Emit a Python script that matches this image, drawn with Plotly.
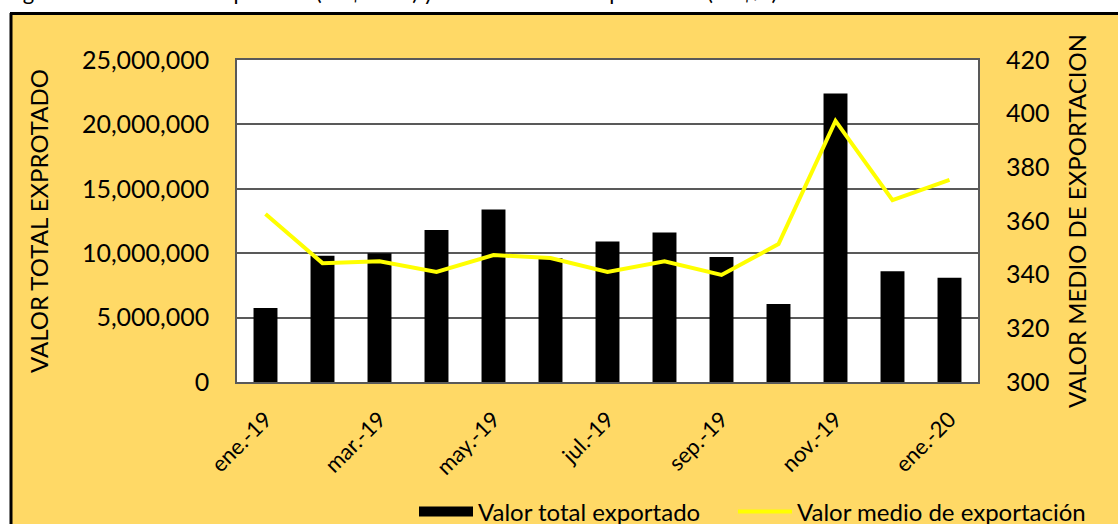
import plotly.graph_objects as go

months = ["ene.-19", "feb.-19", "mar.-19", "abr.-19", "may.-19", "jun.-19", "jul.-19",
          "ago.-19", "sep.-19", "oct.-19", "nov.-19", "dic.-19", "ene.-20"]
valor_total = [5750000, 9800000, 10000000, 11800000, 13400000, 9600000, 10900000,
               11600000, 9700000, 6050000, 22400000, 8600000, 8100000]
valor_medio = [362.6, 344.3, 345.0, 341.0, 347.3, 346.2, 341.0,
               345.0, 339.9, 351.4, 397.3, 367.8, 375.3]
tick_months = months[::2]
left_ticks = [0, 5000000, 10000000, 15000000, 20000000, 25000000]
right_ticks = [300, 320, 340, 360, 380, 400, 420]

W, H = 1118, 524
L, R, T, B = 237, 978, 60, 382
pw, ph = R - L, B - T

def px(x):
    return (x - L) / pw

def py(y):
    return (B - y) / ph

FONT = "Lato"
YEL = "#FFD966"

fig = go.Figure()
fig.add_trace(go.Bar(x=months, y=valor_total, name="Valor total exportado",
                     marker=dict(color="black", line=dict(width=0)), yaxis="y",
                     showlegend=False))
# legend proxy with a wide black key, as in the original
fig.add_trace(go.Scatter(x=[None], y=[None], name="Valor total exportado", mode="lines",
                         line=dict(color="black", width=15), yaxis="y", legend="legend"))
fig.add_trace(go.Scatter(x=months, y=valor_medio, name="Valor medio de exportación",
                         mode="lines", line=dict(color="#FFFF00", width=4), yaxis="y2",
                         legend="legend2"))

legend_common = dict(orientation="h", yanchor="middle", font=dict(size=24, family=FONT),
                     bgcolor="rgba(0,0,0,0)", itemwidth=54)

fig.update_layout(
    width=W, height=H,
    margin=dict(l=L, r=W - R, t=T, b=H - B, pad=0, autoexpand=False),
    paper_bgcolor=YEL, plot_bgcolor="white",
    font=dict(family=FONT, color="black", size=22),
    bargap=0.58,
    showlegend=True,
    legend=dict(x=px(414), y=py(512), xanchor="left", **legend_common),
    legend2=dict(x=px(733), y=py(512), xanchor="left", **legend_common),
    xaxis=dict(tickvals=tick_months, ticktext=tick_months, tickangle=-45,
               tickfont=dict(size=22), showgrid=False, showline=True, linecolor="#595959",
               linewidth=1.5, mirror=True, ticks="", ticklabelstandoff=14, automargin=False),
    yaxis=dict(range=[0, 25000000], tickvals=left_ticks, tickformat=",d",
               tickfont=dict(size=25), showgrid=True, gridcolor="#595959", gridwidth=1.5,
               showline=True, linecolor="#595959", linewidth=1.5, mirror=True,
               zeroline=False, ticks="", ticklabelstandoff=21, automargin=False,
               title=dict(text="VALOR TOTAL EXPROTADO", font=dict(size=24), standoff=26)),
    yaxis2=dict(range=[300, 420], tickvals=right_ticks, overlaying="y", side="right",
                tickfont=dict(size=25), showgrid=False, zeroline=False, showline=False,
                ticks="", ticklabelstandoff=27, automargin=False,
                title=dict(text="VALOR MEDIO DE EXPORTACION", font=dict(size=24), standoff=20)),
)

# white page outside the chart frame, black frame lines
fig.add_shape(type="rect", xref="paper", yref="paper", x0=px(-20), x1=px(1140),
              y0=py(13), y1=py(-30), fillcolor="white", line=dict(width=0), layer="above")
fig.add_shape(type="rect", xref="paper", yref="paper", x0=px(-20), x1=px(10),
              y0=py(560), y1=py(-30), fillcolor="white", line=dict(width=0), layer="above")
fig.add_shape(type="line", xref="paper", yref="paper", x0=px(10), x1=px(1140),
              y0=py(13.5), y1=py(13.5), line=dict(color="black", width=3), layer="above")
fig.add_shape(type="line", xref="paper", yref="paper", x0=px(11), x1=px(11),
              y0=py(13), y1=py(560), line=dict(color="black", width=3), layer="above")

fig.add_annotation(text="Figura 13. Valor total exportado (US$ FOB) y valor medio de exportación (US$/t)",
                   xref="paper", yref="paper", x=px(3), y=py(7), xanchor="left", yanchor="bottom",
                   showarrow=False, font=dict(size=22, family=FONT, color="black"))

fig.write_html("out.html", config={"displayModeBar": False},
               post_script="document.body.style.margin='0';document.body.style.overflow='hidden';")
